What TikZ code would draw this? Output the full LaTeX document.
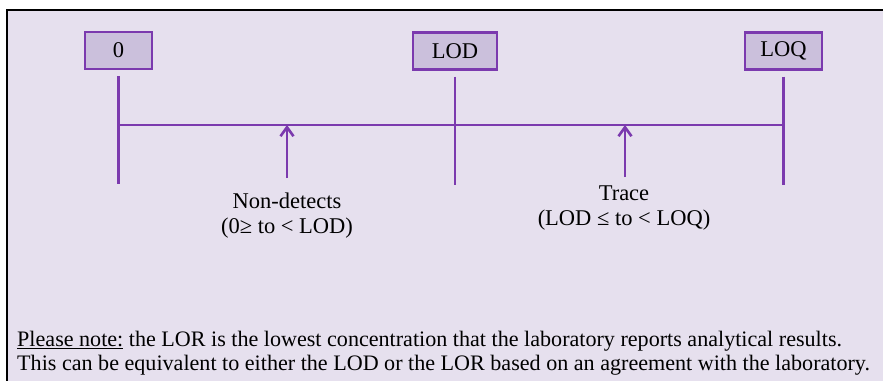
\documentclass[tikz,border=0pt]{standalone}
\usepackage{fontspec}
\setmainfont{Liberation Serif}
\usetikzlibrary{arrows.meta, positioning}
\definecolor{panelfill}{HTML}{E6E0EE}
\definecolor{boxfill}{HTML}{CBC0DC}
\definecolor{scalepurple}{HTML}{7B3AAE}

\begin{document}
\begin{tikzpicture}[x=1pt, y=-1pt,
    limitbox/.style={rectangle, draw=scalepurple, line width=2.4pt, fill=boxfill,
                     minimum height=37pt, inner sep=0pt, font=\fontsize{22.5}{25}\selectfont},
    tick/.style={draw=scalepurple, line width=2.6pt},
    uparrow/.style={-{Straight Barb[length=9pt, width=13pt]}, draw=scalepurple, line width=2.6pt},
    rangelabel/.style={align=center, font=\fontsize{22.5}{25}\selectfont},
    note/.style={anchor=base west, inner sep=0pt, font=\fontsize{22.1}{24}\selectfont}
]
    \useasboundingbox (0,0) rectangle (883,380);
    \clip (0,0) rectangle (883,380);
    \fill[white] (0,0) rectangle (883,380);

    % Panel
    \draw[black, line width=2pt, fill=panelfill] (7,10) rectangle (900,400);

    % Limit boxes
    \node[limitbox, minimum width=67pt] (zero) at (118.5,50.5) {0};
    \node[limitbox, minimum width=84pt] (lod) at (455,51) {LOD};
    \node[limitbox, minimum width=77pt] (loq) at (783.5,51) {LOQ};

    % Ticks below the boxes
    \foreach \b in {zero, lod, loq} {
        \draw[tick] ([yshift=-6pt]\b.south) -- ++(0,108);
    }

    % Scale line
    \coordinate (axisL) at (zero.south |- 0,125);
    \coordinate (axisR) at (loq.south |- 0,125);
    \draw[tick] (axisL) -- (axisR);

    % Ranges
    \coordinate (ndfoot) at (287,178);
    \coordinate (trfoot) at (625,177);
    \draw[uparrow] (ndfoot) -- (ndfoot |- axisL);
    \draw[uparrow] (trfoot) -- (trfoot |- axisL);
    \node[rangelabel, anchor=north] (nondet) at (287,189) {Non-detects\\(0≥ to < LOD)};
    \node[rangelabel, anchor=north] (trace) at (624,182) {Trace\\(LOD ≤ to < LOQ)};

    % Note
    \node[note] (note1) at (17,346) {\underline{Please note:} the LOR is the lowest concentration that the laboratory reports analytical results.};
    \node[note] (note2) at (17,370) {This can be equivalent to either the LOD or the LOR based on an agreement with the laboratory.};
\end{tikzpicture}
\end{document}
